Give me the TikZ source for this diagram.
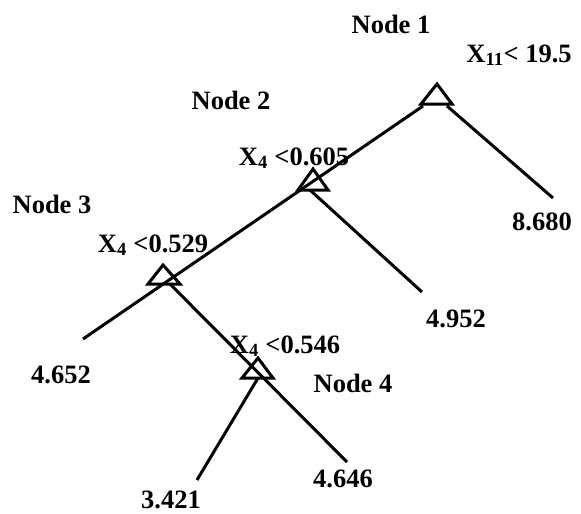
\documentclass[tikz,border=0pt]{standalone}
\usepackage{fontspec}
\setmainfont{Liberation Serif}
\begin{document}
\begin{tikzpicture}[x=1pt,y=-1pt,
  lbl/.style={font=\fontsize{26.5}{30}\selectfont\bfseries, anchor=base, inner sep=0pt},
  branch/.style={line width=3pt},
  tri/.style={line width=3pt, line join=miter}]
\useasboundingbox (0,0) rectangle (581,514);
% split triangles
\coordinate (t1) at (437,84);
\coordinate (t1l) at (421,104);
\coordinate (t1r) at (452,104);
\coordinate (t2) at (313,169);
\coordinate (t2l) at (298,190);
\coordinate (t2r) at (328,190);
\coordinate (t3) at (163,265);
\coordinate (t3l) at (148,284);
\coordinate (t3r) at (180,284);
\coordinate (t4) at (258,358);
\coordinate (t4l) at (242,378);
\coordinate (t4r) at (273,378);
\draw[tri] (t1) -- (t1l) -- (t1r) -- cycle;
\draw[tri] (t2) -- (t2l) -- (t2r) -- cycle;
\draw[tri] (t3) -- (t3l) -- (t3r) -- cycle;
\draw[tri] (t4) -- (t4l) -- (t4r) -- cycle;
% branch points
\coordinate (a1) at (423,106);
\coordinate (b1) at (447,106);
\coordinate (b2) at (310,190);
\coordinate (b3) at (170,284);
\coordinate (b4) at (258,378);
% leaf ends
\coordinate (e1) at (553,198);
\coordinate (e2) at (422,292);
\coordinate (e3) at (83,339);
\coordinate (e4) at (347,462);
\coordinate (e5) at (197,480);
\draw[branch] (a1) -- (e3);
\draw[branch] (b1) -- (e1);
\draw[branch] (b2) -- (e2);
\draw[branch] (b3) -- (e4);
\draw[branch] (b4) -- (e5);
% labels
\node[lbl] (n1) at (391,33) {Node 1};
\node[lbl] (c1) at (519,62) {X\textsubscript{11}< 19.5};
\node[lbl] (n2) at (231,109) {Node 2};
\node[lbl] (c2) at (294,165) {X\textsubscript{4} <0.605};
\node[lbl] (n3) at (52,213) {Node 3};
\node[lbl] (c3) at (153,252) {X\textsubscript{4} <0.529};
\node[lbl] (c4) at (285,353) {X\textsubscript{4} <0.546};
\node[lbl] (n4) at (353,392) {Node 4};
\node[lbl] (l1) at (542,230) {8.680};
\node[lbl] (l2) at (456,327) {4.952};
\node[lbl] (l3) at (61,383) {4.652};
\node[lbl] (l4) at (343,487) {4.646};
\node[lbl] (l5) at (171,508) {3.421};
\end{tikzpicture}
\end{document}
